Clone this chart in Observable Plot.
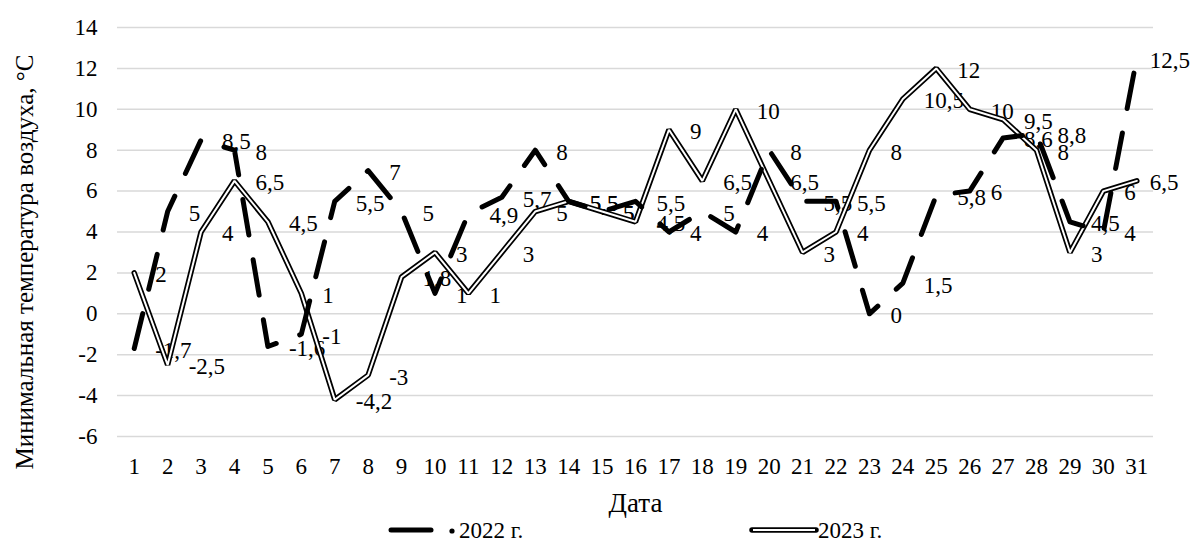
<!DOCTYPE html>
<html>
<head>
<meta charset="utf-8">
<script src="https://cdn.jsdelivr.net/npm/d3@7"></script>
<script src="https://cdn.jsdelivr.net/npm/@observablehq/plot@0.6"></script>
<style>
  html, body { margin: 0; padding: 0; background: #fff; }
  #wrap { position: relative; width: 1195px; height: 543px; font-family: "Liberation Serif", "Times New Roman", serif; }
  #wrap svg { display: block; }
</style>
</head>
<body>
<div id="wrap"></div>
<script>
const days = d3.range(1, 32);
const temp2022 = [-1.7, 5, 8.5, 8, -1.6, -1, 5.5, 7, 5, 1, 4.9, 5.7, 8, 5.5, 5, 5.5, 4, 5, 4, 8, 5.5, 5.5, 0, 1.5, 5.8, 6, 8.6, 8.8, 4.5, 4, 12.5];
const temp2023 = [2, -2.5, 4, 6.5, 4.5, 1, -4.2, -3, 1.8, 3, 1, 3, 5, 5.5, 5, 4.5, 9, 6.5, 10, 6.5, 3, 4, 8, 10.5, 12, 10, 9.5, 8, 3, 6, 6.5];
const yTicks = [-6, -4, -2, 0, 2, 4, 6, 8, 10, 12, 14];
const seriesNames = ["2022 г.", "2023 г."];
const xTitle = "Дата";
const yTitle = "Минимальная температура воздуха, °С";

const d22 = days.map((d, i) => ({day: d, t: temp2022[i]}));
const d23 = days.map((d, i) => ({day: d, t: temp2023[i]}));
const allLabels = d22.concat(d23);
const lastDay = days[days.length - 1];
const fmt = v => String(v).replace(".", ",");

const chart = Plot.plot({
  width: 1195,
  height: 515,
  marginTop: 27,
  marginBottom: 79,
  marginLeft: 117,
  marginRight: 42,
  style: {fontFamily: "'Liberation Serif', 'Times New Roman', serif", fontSize: "23px", color: "black", background: "white", overflow: "visible"},
  x: {type: "linear", domain: [0.5, 31.5]},
  y: {domain: [-6, 14]},
  marks: [
    Plot.gridY(yTicks, {stroke: "#d9d9d9", strokeOpacity: 1, strokeWidth: 1.5}),
    Plot.axisY({ticks: yTicks, tickSize: 0, tickPadding: 20, label: null, tickFormat: d => String(d)}),
    Plot.axisX({ticks: days, tickSize: 0, tickPadding: 21, label: null, tickFormat: d => String(d)}),
    Plot.text(allLabels.filter(d => d.day !== lastDay), {x: "day", y: "t", text: d => fmt(d.t), dx: 21, dy: 2, textAnchor: "start", fill: "black"}),
    Plot.text(allLabels.filter(d => d.day === lastDay), {x: "day", y: "t", text: d => fmt(d.t), dx: 13, dy: 2, textAnchor: "start", fill: "black"}),
    Plot.line(d23, {x: "day", y: "t", stroke: "black", strokeWidth: 5.5, strokeLinejoin: "miter"}),
    Plot.line(d23, {x: "day", y: "t", stroke: "white", strokeWidth: 2, strokeLinejoin: "miter"}),
    Plot.line(d22, {x: "day", y: "t", stroke: "black", strokeWidth: 5, strokeDasharray: "36,25", strokeLinecap: "round", strokeLinejoin: "round"}),
    Plot.text([xTitle], {frameAnchor: "bottom", dy: 67, fontSize: 27, fill: "black", textAnchor: "middle", lineAnchor: "middle"}),
    Plot.text([yTitle], {frameAnchor: "left", rotate: -90, dx: -93, dy: 30, fontSize: 25, fill: "black", textAnchor: "middle", lineAnchor: "middle"})
  ]
});

const wrap = document.getElementById("wrap");
wrap.appendChild(chart);

// legend below the chart
const ns = "http://www.w3.org/2000/svg";
const leg = document.createElementNS(ns, "svg");
leg.setAttribute("width", 1195);
leg.setAttribute("height", 28);
leg.style.fontFamily = "'Liberation Serif', 'Times New Roman', serif";
leg.style.fontSize = "23px";
leg.style.overflow = "visible";
function el(tag, attrs, text) {
  const e = document.createElementNS(ns, tag);
  for (const k in attrs) e.setAttribute(k, attrs[k]);
  if (text) e.textContent = text;
  leg.appendChild(e);
  return e;
}
const ly = 15;
// 2022: long dash sample
el("line", {x1: 391, y1: ly, x2: 431, y2: ly, stroke: "black", "stroke-width": 5, "stroke-linecap": "round"});
el("circle", {cx: 452, cy: ly + 1, r: 2.6, fill: "black"});
el("text", {x: 459, y: ly + 8, fill: "black"}, seriesNames[0]);
// 2023: double line sample
el("line", {x1: 752, y1: ly, x2: 816, y2: ly, stroke: "black", "stroke-width": 5.5, "stroke-linecap": "round"});
el("line", {x1: 753, y1: ly, x2: 815, y2: ly, stroke: "white", "stroke-width": 2});
el("text", {x: 818, y: ly + 8, fill: "black"}, seriesNames[1]);
wrap.appendChild(leg);
</script>
</body>
</html>
